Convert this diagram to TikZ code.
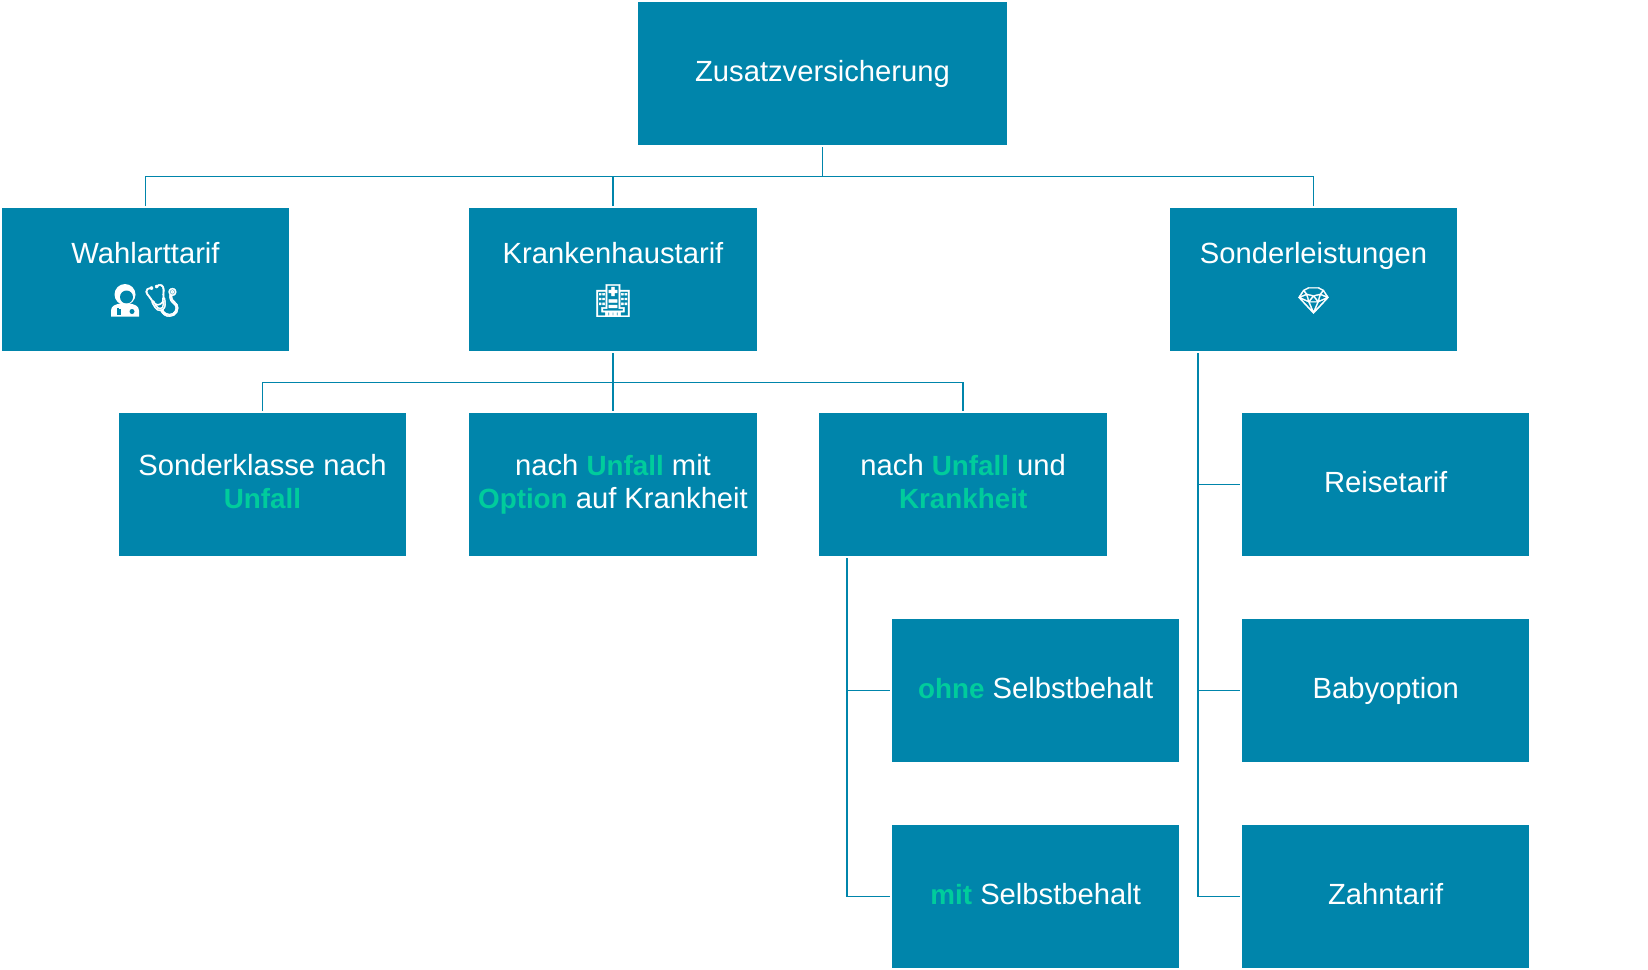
\documentclass[tikz,border=0pt]{standalone}
\usepackage{fontspec}
\setmainfont{Liberation Sans}
\newfontfamily\emojifont[FakeBold=1.5]{Noto Emoji}
\usepackage{xcolor}
\definecolor{tarifBody}{HTML}{0085AB}
\definecolor{tarifGreen}{HTML}{00CC9C}
\usetikzlibrary{positioning}
\tikzstyle{tarif} = [fill=tarifBody, text=white, align=center, inner sep=0pt, outer sep=0pt,
        minimum width=287.5pt, minimum height=143pt, execute at end node={\rule[-6pt]{0pt}{6pt}},
        font={\fontsize{29.2}{32.5}\selectfont}]
\tikzstyle{icon} = [text=white, inner sep=0pt, font={\emojifont\fontsize{32}{32}\selectfont}]
\tikzstyle{link} = [draw=tarifBody, line width=1.8pt]
\newcommand{\hl}[1]{\textcolor{tarifGreen}{\fontsize{27.8}{32.5}\selectfont\textbf{#1}}}
\begin{document}
\begin{tikzpicture}[x=1pt, y=-1pt]
            \useasboundingbox (0,0) rectangle (1648,969);
            \node [tarif, minimum width=369pt] (zusatz) at (822.5,73.5) {Zusatzversicherung};
            \node [tarif] (krankenhaus) at (613,279.5) {Krankenhaustarif\\[15pt]};
            \node [tarif, left=180pt of krankenhaus] (wahlart) {Wahlarttarif\\[15pt]};
            \node [tarif, right=413pt of krankenhaus] (sonder) {Sonderleistungen\\[15pt]};
            \node [tarif, below=62pt of krankenhaus] (option) {nach \hl{Unfall} mit\\\hl{Option} auf Krankheit};
            \node [tarif, left=63pt of option] (klasse) {Sonderklasse nach\\\hl{Unfall}};
            \node [tarif, right=62.7pt of option] (und) {nach \hl{Unfall} und\\\hl{Krankheit}};
            \node [tarif, below right=63pt and -215pt of und] (ohne) {\hl{ohne} Selbstbehalt};
            \node [tarif, below=63pt of ohne] (mit) {\hl{mit} Selbstbehalt};
            \node [tarif, right=135pt of und] (reise) {Reisetarif};
            \node [tarif, below=63pt of reise] (baby) {Babyoption};
            \node [tarif, below=63pt of baby] (zahn) {Zahntarif};
            \coordinate (doctor) at ([xshift=-20.5pt,yshift=-21pt]wahlart.center);
            \begin{scope}[shift={(doctor)}]
                \fill [white] (0,-6) circle (10.5);
                \fill [tarifBody] (1.5,-3.5) circle (6.5);
                \fill [white] (-14,16) -- (-14,10) .. controls (-14,5) and (-9,4) .. (-5,3)
                    -- (5,3) .. controls (9,4) and (14,5) .. (14,10) -- (14,16) -- cycle;
                \draw [tarifBody, line width=1.2pt] (-7,14) -- (-7,7) (-5,14) -- (-5,8);
                \fill [tarifBody] (7,11) circle (2.5);
            \end{scope}
            \node [icon] (stethoscope) at ([xshift=16.5pt,yshift=-21pt]wahlart.center) {\symbol{"1FA7A}};
            \node [icon] (hospital) at ([yshift=-21pt]krankenhaus.center) {\symbol{"1F3E5}};
            \node [icon, font={\emojifont\fontsize{26}{26}\selectfont}] (gem) at ([yshift=-21pt]sonder.center) {\symbol{"1F48E}};
            \coordinate (top) at ([yshift=-31.5pt]zusatz.south);
            \draw [link] ([yshift=-2pt]zusatz.south) -- (top);
            \draw [link] ([yshift=2pt]wahlart.north) |- (top);
            \draw [link] ([yshift=2pt]krankenhaus.north) |- (top);
            \draw [link] ([yshift=2pt]sonder.north) |- (top);
            \coordinate (mid) at ([yshift=-31.5pt]krankenhaus.south);
            \draw [link] ([yshift=-2pt]krankenhaus.south) -- ([yshift=2pt]option.north);
            \draw [link] ([yshift=2pt]klasse.north) |- (mid);
            \draw [link] ([yshift=2pt]und.north) |- (mid);
            \coordinate (sonderTop) at ([xshift=-115.5pt,yshift=-2pt]sonder.south);
            \draw [link] (sonderTop) |- ([xshift=-2pt]zahn.west);
            \draw [link] (sonderTop |- reise.west) -- ([xshift=-2pt]reise.west);
            \draw [link] (sonderTop |- baby.west) -- ([xshift=-2pt]baby.west);
            \coordinate (undBottom) at ([xshift=-116pt,yshift=-2pt]und.south);
            \draw [link] (undBottom) |- ([xshift=-2pt]mit.west);
            \draw [link] (undBottom |- ohne.west) -- ([xshift=-2pt]ohne.west);
        \end{tikzpicture}
\end{document}
